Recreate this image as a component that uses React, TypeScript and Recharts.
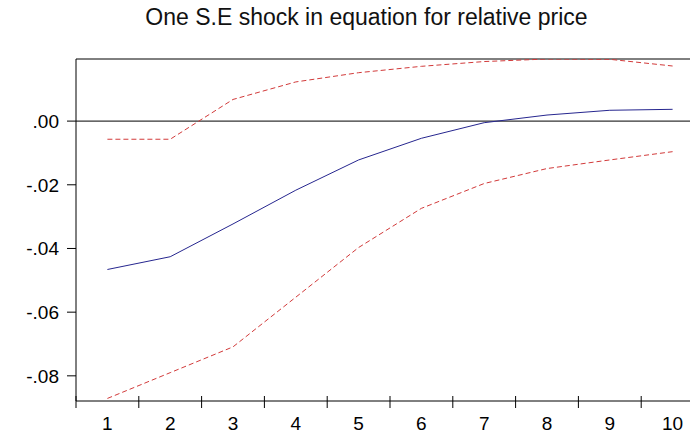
import React from 'react';
import { LineChart, Line, XAxis, YAxis, ReferenceLine } from 'recharts';

// horizon (periods after the shock)
const periods = [1, 2, 3, 4, 5, 6, 7, 8, 9, 10];
// response of relative price and the +/- 2 S.E. bands
const response = [-0.0466, -0.0426, -0.0323, -0.0217, -0.0122, -0.0054, -0.0005, 0.0019, 0.0034, 0.0037];
const upperBand = [-0.0057, -0.0057, 0.0068, 0.0123, 0.0152, 0.0172, 0.0187, 0.0195, 0.0194, 0.0173];
const lowerBand = [-0.0871, -0.079, -0.0709, -0.0553, -0.0397, -0.0274, -0.0196, -0.0149, -0.0122, -0.0096];

const yTicks = [-0.08, -0.06, -0.04, -0.02, 0];
// ticks at category edges (marks) and centres (labels)
const xTicks = [0.5, 1, 1.5, 2, 2.5, 3, 3.5, 4, 4.5, 5, 5.5, 6, 6.5, 7, 7.5, 8, 8.5, 9, 9.5, 10, 10.5];

const Y_MIN = -0.0879;
const Y_MAX = 0.0195;

const title = 'One S.E shock in equation for relative price';
const font = '"Liberation Sans", Arial, sans-serif';

const data = periods.map((p, i) => ({
  period: p,
  response: response[i],
  upper: upperBand[i],
  lower: lowerBand[i],
}));

const fmtY = (v: number) => {
  if (v === 0) return '.00';
  const s = Math.abs(v).toFixed(2).replace(/^0/, '');
  return v < 0 ? `-${s}` : s;
};

const XTick = (props: any) => {
  const { x, y, payload } = props;
  const v = payload.value;
  if (Number.isInteger(v)) {
    return (
      <text x={x} y={y + 16} dy="0.71em" textAnchor="middle" fontSize={19} fontFamily={font} fill="#000">
        {v}
      </text>
    );
  }
  return <line x1={x} x2={x} y1={y - 5} y2={y + 7} stroke="#000" strokeWidth={1} />;
};

export default function App() {
  return (
    <div style={{ position: 'absolute', left: 0, top: 0, width: 690, height: 436, overflow: 'hidden', background: '#fff' }}>
      <div
        style={{
          position: 'absolute',
          left: 0,
          top: 4,
          width: 733,
          textAlign: 'center',
          fontFamily: font,
          fontSize: 23,
          color: '#111',
          whiteSpace: 'nowrap',
        }}
      >
        {title}
      </div>
      <div style={{ position: 'absolute', left: 0, top: 0 }}>
        <LineChart width={708} height={436} data={data} margin={{ top: 59, right: 4, bottom: 0, left: 0 }}>
          <XAxis
            dataKey="period"
            type="number"
            domain={[0.5, 10.5]}
            ticks={xTicks}
            interval={0}
            height={35}
            tickLine={false}
            tickSize={0}
            tickMargin={0}
            tick={<XTick />}
            axisLine={{ stroke: '#000', strokeWidth: 1 }}
          />
          <YAxis
            type="number"
            domain={[Y_MIN, Y_MAX]}
            ticks={yTicks}
            interval={0}
            width={76}
            tickFormatter={fmtY}
            tickSize={9}
            tickMargin={8}
            tick={{ fontSize: 19, fontFamily: font, fill: '#000' }}
            tickLine={{ stroke: '#000' }}
            axisLine={{ stroke: '#000', strokeWidth: 1 }}
            allowDataOverflow
          />
          <ReferenceLine y={Y_MAX} stroke="#000" strokeWidth={1} />
          <ReferenceLine y={0} stroke="#000" strokeWidth={1} />
          <Line
            type="linear"
            dataKey="upper"
            stroke="#d23a3a"
            strokeWidth={1}
            strokeDasharray="5 3"
            dot={false}
            isAnimationActive={false}
          />
          <Line
            type="linear"
            dataKey="lower"
            stroke="#d23a3a"
            strokeWidth={1}
            strokeDasharray="5 3"
            dot={false}
            isAnimationActive={false}
          />
          <Line
            type="linear"
            dataKey="response"
            stroke="#26268f"
            strokeWidth={1}
            dot={false}
            isAnimationActive={false}
          />
        </LineChart>
      </div>
    </div>
  );
}
